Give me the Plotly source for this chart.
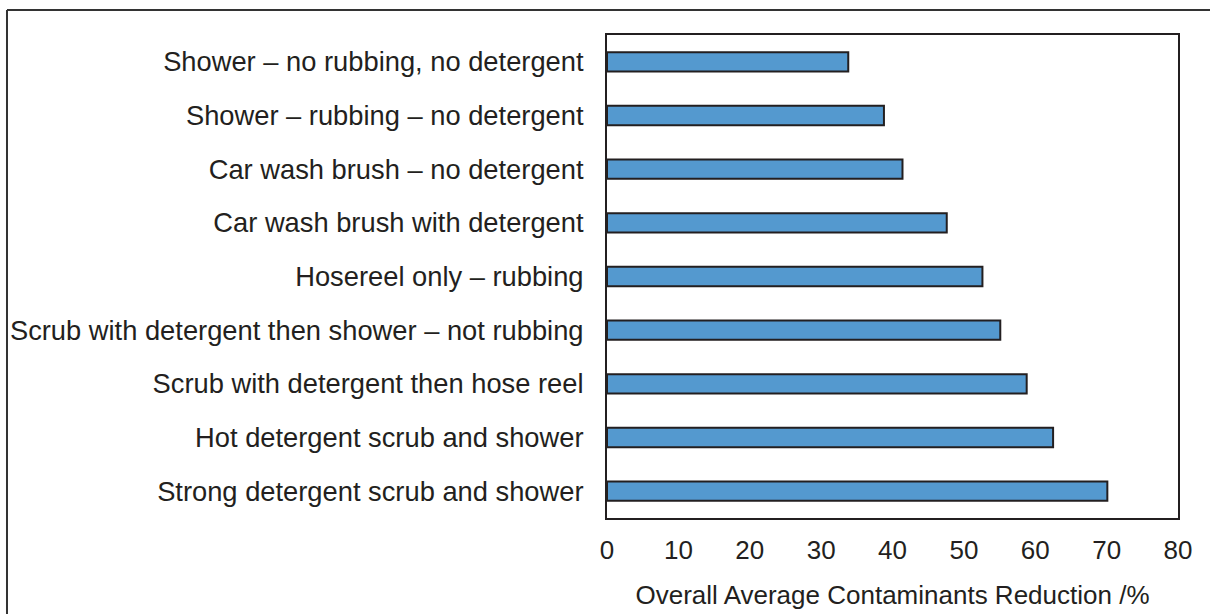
import plotly.graph_objects as go

# Washing methods, listed top to bottom as displayed
methods = [
    "Shower – no rubbing, no detergent",
    "Shower – rubbing – no detergent",
    "Car wash brush – no detergent",
    "Car wash brush with detergent",
    "Hosereel only – rubbing",
    "Scrub with detergent then shower – not rubbing",
    "Scrub with detergent then hose reel",
    "Hot detergent scrub and shower",
    "Strong detergent scrub and shower",
]
# Overall average contaminants reduction (%)
reduction = [33.8, 38.8, 41.4, 47.6, 52.6, 55.1, 58.8, 62.5, 70.1]
x_ticks = [0, 10, 20, 30, 40, 50, 60, 70, 80]

ink = "#231f20"
font_family = "Liberation Sans, Arial, sans-serif"

fig = go.Figure(
    go.Bar(
        x=reduction,
        y=methods,
        orientation="h",
        marker=dict(color="#5499cf", line=dict(color=ink, width=2)),
        hoverinfo="x+y",
    )
)

fig.update_layout(
    width=1210,
    height=614,
    margin=dict(l=607, r=32, t=35, b=96),
    paper_bgcolor="white",
    plot_bgcolor="white",
    bargap=0.64,
    showlegend=False,
    font=dict(family=font_family, size=26, color=ink),
    xaxis=dict(
        range=[0, 80],
        tickvals=x_ticks,
        ticks="",
        ticklabelstandoff=8,
        automargin=False,
        showgrid=False,
        zeroline=False,
        showline=True,
        mirror=True,
        linecolor=ink,
        linewidth=2,
        title=dict(text="Overall Average Contaminants Reduction /%", font=dict(size=26), standoff=22),
    ),
    yaxis=dict(
        categoryorder="array",
        categoryarray=methods[::-1],
        tickfont=dict(size=27.3),
        ticks="",
        ticklabelstandoff=16,
        automargin=False,
        showgrid=False,
        showline=True,
        mirror=True,
        linecolor=ink,
        linewidth=2,
    ),
    shapes=[
        # outer figure frame, open at the right and bottom edges
        dict(type="line", xref="paper", yref="paper", x0=-1.0508, x1=1.2, y0=1.0517, y1=1.0517,
             line=dict(color="#333333", width=2)),
        dict(type="line", xref="paper", yref="paper", x0=-1.0508, x1=-1.0508, y0=1.0517, y1=-0.25,
             line=dict(color="#333333", width=2)),
    ],
)

fig.write_html("out.html")
